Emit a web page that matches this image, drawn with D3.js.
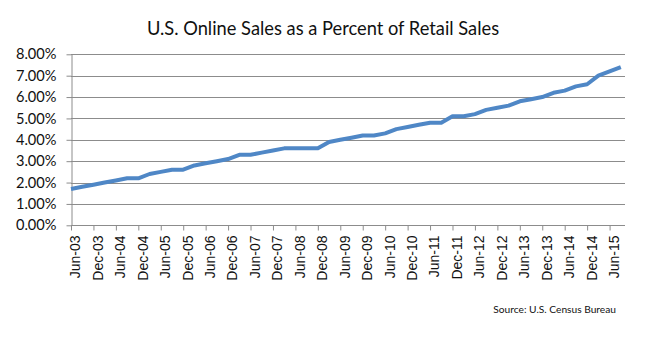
<!DOCTYPE html>
<html>
<head>
<meta charset="utf-8">
<script src="https://cdn.jsdelivr.net/npm/d3@7/dist/d3.min.js"></script>
<style>
  html, body { margin: 0; padding: 0; background: #fff; }
  svg { display: block; }
</style>
</head>
<body>
<svg id="chart" width="655" height="340"></svg>
<script>
// Quarterly e-commerce share of total retail sales, Jun-03 through Sep-15
const quarters = [
  "Jun-03","Sep-03","Dec-03","Mar-04","Jun-04","Sep-04","Dec-04","Mar-05",
  "Jun-05","Sep-05","Dec-05","Mar-06","Jun-06","Sep-06","Dec-06","Mar-07",
  "Jun-07","Sep-07","Dec-07","Mar-08","Jun-08","Sep-08","Dec-08","Mar-09",
  "Jun-09","Sep-09","Dec-09","Mar-10","Jun-10","Sep-10","Dec-10","Mar-11",
  "Jun-11","Sep-11","Dec-11","Mar-12","Jun-12","Sep-12","Dec-12","Mar-13",
  "Jun-13","Sep-13","Dec-13","Mar-14","Jun-14","Sep-14","Dec-14","Mar-15",
  "Jun-15","Sep-15"
];
const onlineShare = [
  1.7, 1.8, 1.9, 2.0, 2.1, 2.2, 2.2, 2.4,
  2.5, 2.6, 2.6, 2.8, 2.9, 3.0, 3.1, 3.3,
  3.3, 3.4, 3.5, 3.6, 3.6, 3.6, 3.6, 3.9,
  4.0, 4.1, 4.2, 4.2, 4.3, 4.5, 4.6, 4.7,
  4.8, 4.8, 5.1, 5.1, 5.2, 5.4, 5.5, 5.6,
  5.8, 5.9, 6.0, 6.2, 6.3, 6.5, 6.6, 7.0,
  7.2, 7.4
];
const yTicks = [0, 1, 2, 3, 4, 5, 6, 7, 8];

const title = "U.S. Online Sales as a Percent of Retail Sales";
const source = "Source: U.S. Census Bureau";

const svg = d3.select("#chart");
const plot = { left: 71, right: 625, top: 54.3, bottom: 225.3 };

const x = d3.scaleLinear()
  .domain([0, quarters.length - 1])
  .range([plot.left, 620.8]);
const y = d3.scaleLinear()
  .domain([0, 8])
  .range([plot.bottom, plot.top]);

// Title
svg.append("text")
  .attr("x", 323).attr("y", 35)
  .attr("text-anchor", "middle")
  .attr("font-family", "Lato, 'Open Sans', sans-serif")
  .attr("font-size", 18.3)
  .attr("fill", "#111")
  .text(title);

// Horizontal gridlines
svg.append("g")
  .selectAll("line")
  .data(yTicks.filter(d => d > 0))
  .join("line")
  .attr("x1", plot.left).attr("x2", plot.right)
  .attr("y1", d => Math.round(y(d)) + 0.5)
  .attr("y2", d => Math.round(y(d)) + 0.5)
  .attr("stroke", "#8c8c8c")
  .attr("stroke-width", 1);

// Y axis
const yAxis = svg.append("g")
  .attr("transform", `translate(${plot.left + 0.5},0)`)
  .call(d3.axisLeft(y).tickValues(yTicks).tickSize(5).tickSizeOuter(0)
    .tickFormat(d => d3.format(".2f")(d) + "%"));
yAxis.select(".domain").attr("stroke", "#8c8c8c");
yAxis.selectAll(".tick line").attr("stroke", "#8c8c8c");
yAxis.selectAll(".tick text")
  .attr("x", -15)
  .attr("font-family", "Lato, 'Open Sans', sans-serif")
  .attr("font-size", 14.6)
  .attr("fill", "#111");

// X axis: ticks every other quarter, labels rotated
const labelIdx = d3.range(0, quarters.length, 2);
const xAxis = svg.append("g")
  .attr("transform", `translate(0,${Math.round(plot.bottom) + 0.5})`)
  .call(d3.axisBottom(x).tickValues(labelIdx).tickSize(5).tickSizeOuter(0)
    .tickFormat(i => quarters[i]));
xAxis.select(".domain").attr("stroke", "#8c8c8c")
  .attr("d", `M${plot.left},0H${plot.right}`);
xAxis.selectAll(".tick line").attr("stroke", "#8c8c8c");
xAxis.selectAll(".tick text")
  .attr("transform", "rotate(-90)")
  .attr("text-anchor", "end")
  .attr("x", -10)
  .attr("y", 4)
  .attr("dy", "0.35em")
  .attr("font-family", "'Liberation Sans', Arial, sans-serif")
  .attr("font-size", 14)
  .attr("fill", "#111");

// Series line
const line = d3.line()
  .x((d, i) => x(i))
  .y(d => y(d));
svg.append("path")
  .datum(onlineShare)
  .attr("d", line)
  .attr("fill", "none")
  .attr("stroke", "#4f87c6")
  .attr("stroke-width", 4)
  .attr("stroke-linejoin", "round");

// Source note
svg.append("text")
  .attr("x", 616).attr("y", 313)
  .attr("text-anchor", "end")
  .attr("font-family", "Lato, 'Open Sans', sans-serif")
  .attr("font-size", 10.2)
  .attr("fill", "#111")
  .text(source);
</script>
</body>
</html>
